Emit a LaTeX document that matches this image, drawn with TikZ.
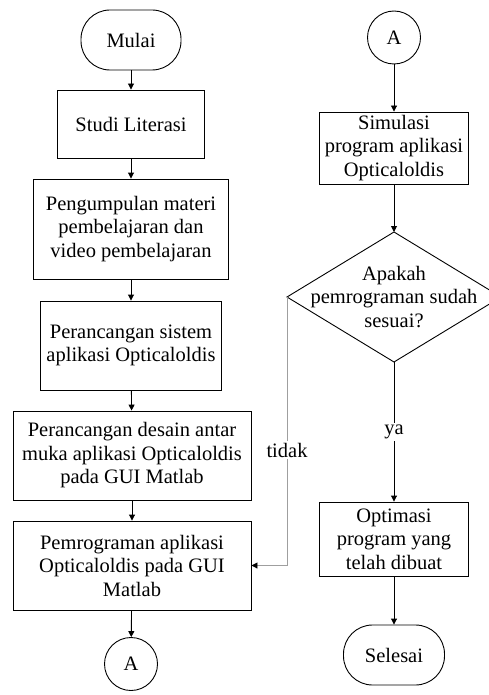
\documentclass[tikz,border=0pt]{standalone}
\usepackage{fontspec}
\setmainfont{Liberation Serif}
\usetikzlibrary{arrows.meta}
\begin{document}
\begin{tikzpicture}[x=1pt,y=-1pt,
  every node/.style={font=\fontsize{20.5}{23.5}\selectfont, align=center, inner sep=0pt},
  procbox/.style={draw, line width=0.9pt, rectangle},
  termbox/.style={draw, line width=0.9pt, rectangle, rounded corners=29pt, minimum width=100pt, minimum height=60pt},
  conn/.style={draw, line width=0.9pt, circle, minimum size=53pt},
  flow/.style={line width=0.9pt, -{Triangle[length=6pt,width=6pt]}},
  lbl/.style={fill=white, inner sep=2pt}
]
\useasboundingbox (0,0) rectangle (488,695);
% left column
\node[termbox] (mulai) at (131,40) {Mulai};
\node[procbox, minimum width=147pt, minimum height=68pt] (studi) at (131,124) {Studi Literasi};
\node[procbox, minimum width=195pt, minimum height=100pt] (kumpul) at (131,229) {Pengumpulan materi\\pembelajaran dan\\video pembelajaran};
\node[procbox, minimum width=181pt, minimum height=89pt] (sistem) at (131,345.5) {Perancangan sistem\\aplikasi Opticaloldis};
\node[procbox, minimum width=238pt, minimum height=89pt] (desain) at (132,455.5) {Perancangan desain antar\\muka aplikasi Opticaloldis\\pada GUI Matlab};
\node[procbox, minimum width=238pt, minimum height=89pt] (program) at (132,565.5) {Pemrograman aplikasi\\Opticaloldis pada GUI\\Matlab};
\node[conn] (a1) at (131,664) {A};
% right column
\node[conn] (a2) at (394,37.5) {A};
\node[procbox, minimum width=149pt, minimum height=72pt] (simul) at (394,148) {Simulasi\\program aplikasi\\Opticaloldis};
\node (dec) at (394,297) {Apakah\\pemrograman sudah\\sesuai?};
\coordinate (dt) at (394,232);
\coordinate (dr) at (501,297);
\coordinate (db) at (394,362);
\coordinate (dl) at (287,297);
\draw[line width=0.9pt] (dt) -- (dr) -- (db) -- (dl) -- cycle;
\node[procbox, minimum width=149pt, minimum height=74pt] (optim) at (394,539) {Optimasi\\program yang\\telah dibuat};
\node[termbox, minimum width=101pt] (selesai) at (394,655) {Selesai};
% connectors
\draw[flow] (mulai) -- (studi);
\draw[flow] (studi) -- (kumpul);
\draw[flow] (kumpul) -- (sistem);
\draw[flow] (sistem) -- (desain);
\draw[flow] (desain) -- (program);
\draw[flow] (program) -- (a1);
\draw[flow] (a2) -- (simul);
\draw[flow] (simul.south) -- (dt);
\draw[flow] (db) -- node[lbl, pos=0.5] {ya} (optim.north);
\draw[flow] (optim) -- (selesai);
\draw[line width=0.9pt, draw=gray!75] (dl) -- node[lbl, pos=0.57] {tidak} (dl |- program.east) -- ([xshift=4pt]program.east);
\draw[flow] ([xshift=4pt]program.east) -- (program.east);
\end{tikzpicture}
\end{document}
